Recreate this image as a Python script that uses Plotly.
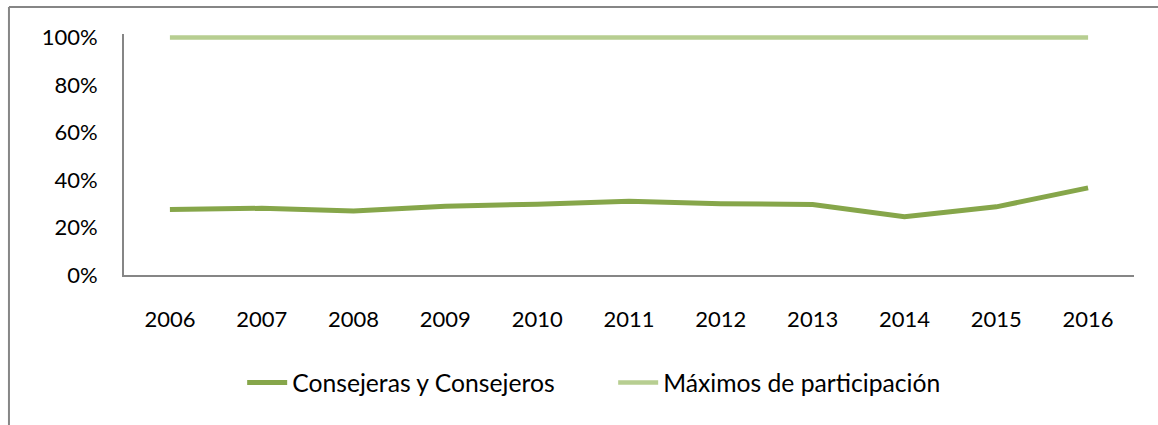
import plotly.graph_objects as go

years = ["2006", "2007", "2008", "2009", "2010", "2011", "2012", "2013", "2014", "2015", "2016"]
consejeros = [0.276, 0.281, 0.270, 0.290, 0.298, 0.311, 0.300, 0.297, 0.245, 0.287, 0.367]
maximos = [1.0, 1.0, 1.0, 1.0, 1.0, 1.0, 1.0, 1.0, 1.0, 1.0, 1.0]
series_names = ["Consejeras y Consejeros", "Máximos de participación"]
y_ticks = [0, 0.2, 0.4, 0.6, 0.8, 1.0]
y_tick_labels = ["0%", "20%", "40%", "60%", "80%", "100%"]

dark = "#86A64A"
light = "#B7CE91"
gray = "#868686"

fig = go.Figure()
fig.add_trace(go.Scatter(x=years, y=consejeros, mode="lines", name=series_names[0],
                         line=dict(color=dark, width=5)))
fig.add_trace(go.Scatter(x=years, y=maximos, mode="lines", name=series_names[1],
                         line=dict(color=light, width=4.5)))

fig.update_layout(
    width=1158, height=425,
    margin=dict(l=124, r=24, t=34, b=150, autoexpand=False),
    paper_bgcolor="white", plot_bgcolor="white",
    font=dict(family="Lato", size=22, color="black"),
    showlegend=True,
    legend=dict(orientation="h", x=0.117, xanchor="left", y=-0.448, yanchor="middle",
                font=dict(size=24.7), entrywidth=316, itemwidth=40, traceorder="normal",
                bgcolor="rgba(0,0,0,0)"),
    xaxis=dict(type="category", range=[-0.5, 10.5], showgrid=False, zeroline=False,
               showline=True, linecolor=gray, linewidth=2, ticks="",
               ticklabelstandoff=24),
    yaxis=dict(range=[0, 1.015], tickvals=y_ticks, ticktext=y_tick_labels, showgrid=False,
               zeroline=False, showline=True, linecolor=gray, linewidth=2, ticks="",
               ticklabelstandoff=20),
    shapes=[
        dict(type="line", xref="paper", yref="paper", x0=-0.1139, x1=1.1, y0=1.112, y1=1.112,
             line=dict(color=gray, width=2)),
        dict(type="line", xref="paper", yref="paper", x0=-0.1139, x1=-0.1139, y0=1.112, y1=-1.0,
             line=dict(color=gray, width=2)),
    ],
)

fig.write_html("out.html", config={"displayModeBar": False},
               post_script="document.body.style.margin='0';document.body.style.overflow='hidden';")
